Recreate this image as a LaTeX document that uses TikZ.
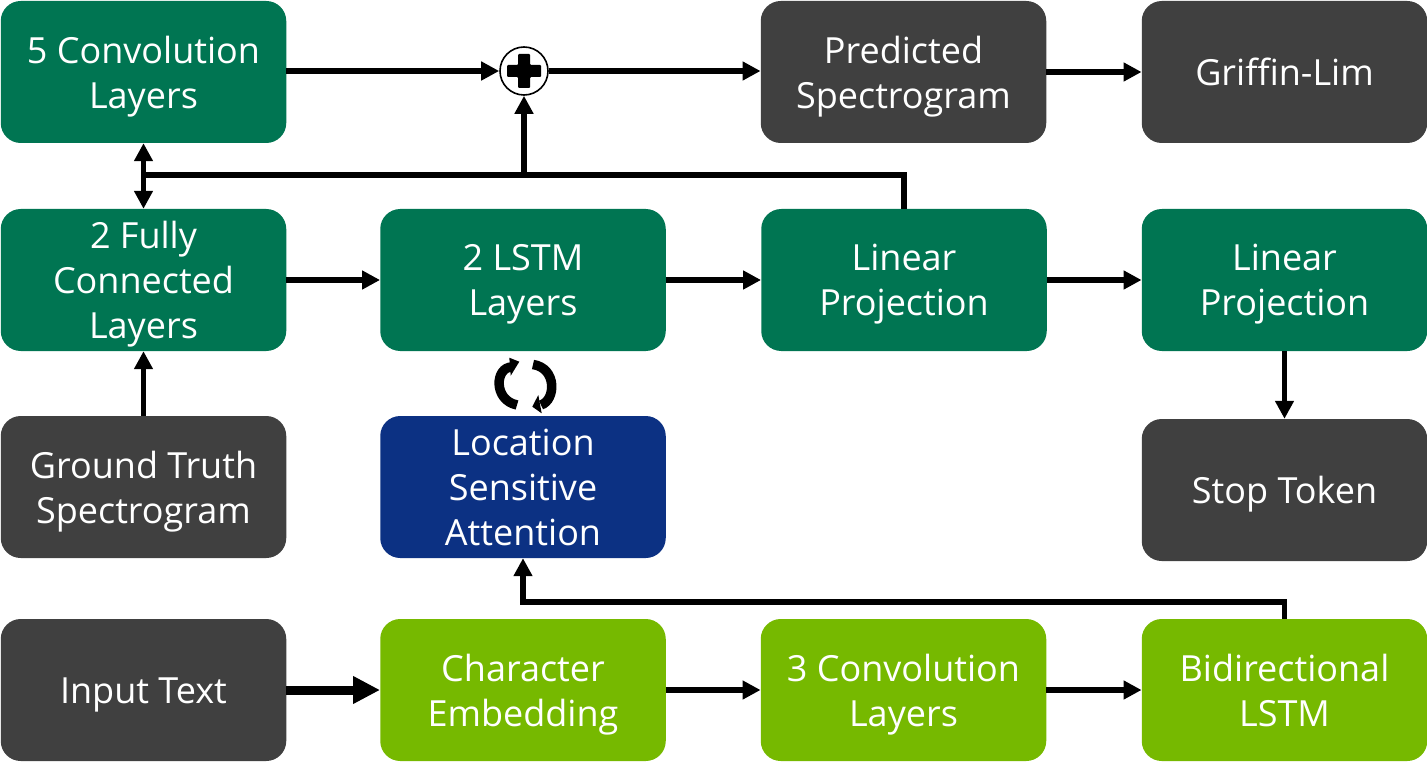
\documentclass[tikz,border=0pt]{standalone}
\usepackage{fontspec}
\setmainfont{Open Sans}
\usetikzlibrary{arrows.meta}
\definecolor{dgreen}{HTML}{007552}
\definecolor{lgreen}{HTML}{76B900}
\definecolor{dgray}{HTML}{404040}
\definecolor{dblue}{HTML}{0C3183}
\newcommand\dn[1]{\raisebox{-5pt}[\height][\depth]{#1}}
\tikzset{
  x=1pt,y=-1pt,
  box/.style={rounded corners=20pt,minimum width=285.5pt,minimum height=142pt,inner sep=0pt,text=white,align=center,font=\fontsize{36}{45}\selectfont,
    execute at begin node={\rule{0pt}{37pt}},execute at end node={\rule[-10pt]{0pt}{10pt}}},
  gbox/.style={box,fill=dgreen},
  lbox/.style={box,fill=lgreen},
  kbox/.style={box,fill=dgray},
  bbox/.style={box,fill=dblue},
  conn/.style={draw=black,line width=5.5pt,-{Triangle[length=18pt,width=18pt]}},
  line/.style={draw=black,line width=5.5pt},
  cyc/.style={draw=black,line width=9.5pt},
}
\begin{document}
\begin{tikzpicture}
\useasboundingbox (0,0) rectangle (1427,762);
\node[gbox] (conv5) at (143.5,72) {\dn{5 Convolution}\\\dn{Layers}};
\node[kbox] (pred) at (903.5,72) {\dn{Predicted}\\\dn{Spectrogram}};
\node[kbox] (griffin) at (1284.5,72) {Griffin-Lim};
\node[gbox] (fc) at (143.5,280) {\dn{2 Fully}\\\dn{Connected}\\\dn{Layers}};
\node[gbox] (lstm) at (523,280) {\dn{2 LSTM}\\\dn{Layers}};
\node[gbox] (lin1) at (904,280) {\dn{Linear}\\\dn{Projection}};
\node[gbox] (lin2) at (1284.5,280) {\dn{Linear}\\\dn{Projection}};
\node[kbox] (gt) at (143.5,487) {\dn{Ground Truth}\\\dn{Spectrogram}};
\node[bbox] (att) at (523,487) {\dn{Location}\\\dn{Sensitive}\\\dn{Attention}};
\node[kbox] (stop) at (1284.5,490) {Stop Token};
\node[kbox] (input) at (143.5,690) {Input Text};
\node[lbox] (char) at (523,690) {\dn{Character}\\\dn{Embedding}};
\node[lbox] (conv3) at (903.5,690) {\dn{3 Convolution}\\\dn{Layers}};
\node[lbox] (bi) at (1284.5,690) {\dn{Bidirectional}\\\dn{LSTM}};
\node[circle,draw=black,line width=1.6pt,fill=white,minimum size=48pt,inner sep=0pt] (plus) at (524,71) {};
\fill[black,rounded corners=1pt] (518,54) -- (530,54) -- (530,65) -- (541,65) -- (541,77) -- (530,77) -- (530,88) -- (518,88) -- (518,77) -- (507,77) -- (507,65) -- (518,65) -- cycle;
% top row
\draw[conn] (conv5.east |- plus.west) -- (plus.west);
\draw[conn] (plus.east) -- (plus.east -| pred.west);
\draw[conn] (pred.east) -- (griffin.west);
% middle row
\draw[conn] (fc.east) -- (lstm.west);
\draw[conn] (lstm.east) -- (lin1.west);
\draw[conn] (lin1.east) -- (lin2.west);
\draw[conn] (lin2.south) -- (stop.north);
\draw[conn] (gt.north) -- (fc.south);
% feedback bus
\coordinate (busL) at (143.5,175);
\coordinate (busM) at (plus.south |- busL);
\coordinate (busR) at (lin1.north |- busL);
\draw[line,line join=miter] (lin1.north) -- (busR) -- (busL);
\draw[conn] (busM) -- (plus.south);
\draw[draw=black,line width=5.5pt,{Triangle[length=18pt,width=18pt]}-{Triangle[length=18pt,width=18pt]}] (conv5.south) -- (fc.north);
% bottom row
\draw[conn,line width=9pt,-{Triangle[length=27pt,width=26pt]}] (input.east) -- (char.west);
\draw[conn] (char.east) -- (conv3.west);
\draw[conn] (conv3.east) -- (bi.west);
\coordinate (biUp) at (bi.north |- 0,602);
\draw[conn,line join=miter] (bi.north) -- (biUp) -- (att.south |- biUp) -- (att.south);
% cycle arrows
\draw[cyc] (517,405) .. controls (493,400) and (495,367) .. (512,367);
\fill[black] (519.3,361.7) -- (509.3,357.7) -- (510.7,375.7) -- cycle;
\draw[cyc] (533,364.5) .. controls (557,368) and (556,400) .. (541,405);
\fill[black] (532.3,406.7) -- (538.3,395) -- (541.7,413.3) -- cycle;
\end{tikzpicture}
\end{document}
